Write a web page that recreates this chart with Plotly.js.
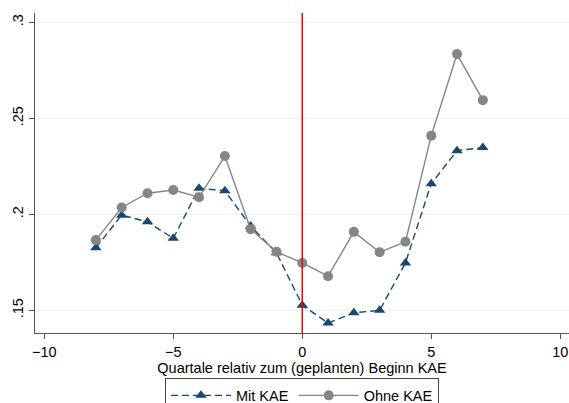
<!DOCTYPE html>
<html>
<head>
<meta charset="utf-8">
<script src="https://cdn.plot.ly/plotly-3.0.1.min.js"></script>
<style>html,body{margin:0;padding:0;background:#fff;}#chart{width:569px;height:403px;}</style>
</head>
<body>
<div id="chart"></div>
<script>
const quarters = [-8,-7,-6,-5,-4,-3,-2,-1,0,1,2,3,4,5,6,7];
const mitKAE  = [0.1826,0.1996,0.1961,0.1875,0.2136,0.2123,0.1939,0.1800,0.1527,0.1434,0.1487,0.1500,0.1747,0.2160,0.2332,0.2348];
const ohneKAE = [0.1866,0.2036,0.2110,0.2127,0.2089,0.2304,0.1923,0.1805,0.1747,0.1678,0.1909,0.1803,0.1857,0.2410,0.2835,0.2595];
const yTickVals = [0.15,0.2,0.25,0.3];
const yTickText = ['.15','.2','.25','.3'];
const xTickVals = [-10,-5,0,5,10];
const seriesNames = ['Mit KAE','Ohne KAE'];
const xTitle = 'Quartale relativ zum (geplanten) Beginn KAE';

const traces = [
  {x: quarters, y: mitKAE, name: seriesNames[0], type: 'scatter', mode: 'lines+markers',
   line: {color: '#1a476f', width: 1.4, dash: '7px,4px'},
   marker: {symbol: 'triangle-up', size: 10, color: '#1a476f'}},
  {x: quarters, y: ohneKAE, name: seriesNames[1], type: 'scatter', mode: 'lines+markers',
   line: {color: '#858585', width: 1.4},
   marker: {symbol: 'circle', size: 10, color: '#858585'}}
];

const layout = {
  width: 569, height: 403,
  margin: {l: 35, r: 0, t: 13, b: 70, autoexpand: false},
  paper_bgcolor: '#fff', plot_bgcolor: '#fff',
  font: {family: 'Liberation Sans, Arial, sans-serif', size: 14.5, color: '#000'},
  showlegend: true,
  legend: {orientation: 'h', x: 0.5, xanchor: 'center', y: -0.142, yanchor: 'top',
           bordercolor: '#444', borderwidth: 1, font: {size: 14.5}, itemwidth: 60,
           traceorder: 'normal'},
  xaxis: {range: [-10.36, 10.34], tickvals: xTickVals, ticks: 'outside', ticklen: 5,
          tickcolor: '#555', showline: true, linecolor: '#555', linewidth: 1.3,
          showgrid: false, zeroline: false,
          title: {text: xTitle, standoff: 2, font: {size: 14.5}}, tickfont: {size: 14.5}},
  yaxis: {range: [0.1382, 0.3049], tickvals: yTickVals, ticktext: yTickText,
          ticks: 'outside', ticklen: 5, tickcolor: '#555', tickangle: -90,
          showline: true, linecolor: '#555', linewidth: 1.3,
          showgrid: true, gridcolor: '#eaf2f3', gridwidth: 1.3, zeroline: false,
          tickfont: {size: 14.5}},
  shapes: [{type: 'line', xref: 'x', yref: 'paper', x0: 0, x1: 0, y0: 0, y1: 1,
            line: {color: '#ff0000', width: 1.5}}]
};

Plotly.newPlot('chart', traces, layout, {displayModeBar: false, staticPlot: true});
</script>
</body>
</html>
